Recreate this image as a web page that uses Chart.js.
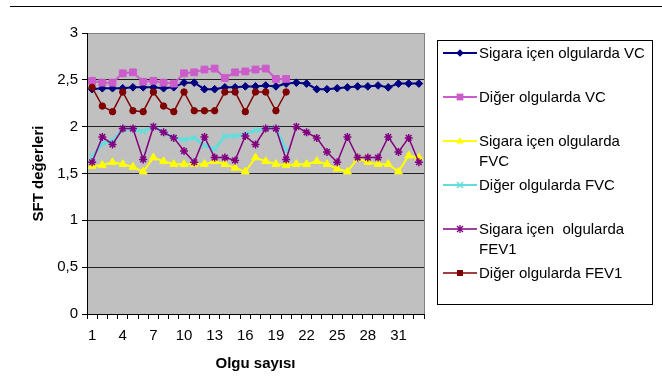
<!DOCTYPE html>
<html>
<head>
<meta charset="utf-8">
<script src="https://cdn.jsdelivr.net/npm/chart.js@4.4.1/dist/chart.umd.min.js"></script>
<style>
html,body{margin:0;padding:0;background:#fff;}
#wrap{position:relative;width:662px;height:388px;overflow:hidden;font-family:"Liberation Sans",Arial,sans-serif;background:#fff;}
#c{position:absolute;left:0;top:0;}
#topline{position:absolute;left:10px;top:6px;width:652px;height:0;border-top:1px solid #000;}
#legendBox{position:absolute;left:437px;top:40px;width:216px;height:265px;border:1px solid #000;box-sizing:border-box;}
.lg-text{position:absolute;left:479px;font-size:15px;line-height:20px;color:#000;white-space:pre;}
.lg-svg{position:absolute;left:442px;}
</style>
</head>
<body>
<div id="wrap">
  <canvas id="c" width="662" height="388"></canvas>
  <div id="topline"></div>
  <div id="legendBox"></div>
</div>
<script>
// ---- data ----
const categories = ['1','2','3','4','5','6','7','8','9','10','11','12','13','14','15','16','17','18','19','20','21','22','23','24','25','26','27','28','29','30','31','32','33'];

const seriesNames = [
  'Sigara içen olgularda VC',
  'Diğer olgularda VC',
  'Sigara içen olgularda\nFVC',
  'Diğer olgularda FVC',
  'Sigara içen  olgularda\nFEV1',
  'Diğer olgularda FEV1'
];

const vcSmokers = [2.40, 2.41, 2.41, 2.41, 2.42, 2.42, 2.42, 2.41, 2.42, 2.47, 2.47, 2.40, 2.40, 2.42, 2.42, 2.43, 2.43, 2.44, 2.43, 2.46, 2.47, 2.46, 2.40, 2.40, 2.41, 2.42, 2.43, 2.43, 2.44, 2.42, 2.46, 2.46, 2.46];
const vcOthers = [2.49, 2.47, 2.47, 2.57, 2.58, 2.48, 2.49, 2.47, 2.46, 2.57, 2.58, 2.61, 2.62, 2.52, 2.58, 2.59, 2.61, 2.62, 2.51, 2.51];
const fvcSmokers = [1.58, 1.59, 1.62, 1.60, 1.57, 1.52, 1.67, 1.63, 1.60, 1.60, 1.60, 1.60, 1.63, 1.60, 1.56, 1.52, 1.67, 1.63, 1.60, 1.59, 1.60, 1.60, 1.63, 1.60, 1.55, 1.52, 1.66, 1.62, 1.60, 1.60, 1.52, 1.69, 1.67];
const fvcOthers = [1.68, 1.82, 1.85, 1.97, 1.97, 1.95, 2.00, 1.94, 1.88, 1.86, 1.88, 1.80, 1.76, 1.90, 1.90, 1.92, 1.96, 1.98, 1.98, 1.75];
const fev1Smokers = [1.62, 1.89, 1.81, 1.98, 1.98, 1.65, 2.00, 1.94, 1.88, 1.74, 1.62, 1.89, 1.67, 1.67, 1.64, 1.90, 1.81, 1.98, 1.98, 1.65, 2.00, 1.94, 1.88, 1.73, 1.62, 1.89, 1.67, 1.67, 1.67, 1.89, 1.73, 1.88, 1.62];
const fev1Others = [2.42, 2.22, 2.16, 2.37, 2.17, 2.16, 2.37, 2.22, 2.16, 2.37, 2.17, 2.17, 2.17, 2.37, 2.37, 2.16, 2.37, 2.37, 2.17, 2.37];

// ---- styles ----
const FONT = '"Liberation Sans", Arial, sans-serif';
Chart.defaults.font.family = FONT;
Chart.defaults.color = '#000';

const styles = [
  {color:'#000080', fill:'#000080', point:'rectRot', radius:3.8, width:2},
  {color:'#cc5ccc', fill:'#cc5ccc', point:'rect', radius:4.8, width:2},
  {color:'#ffff00', fill:'#ffff00', point:'triangle', radius:4.5, width:2},
  {color:'#66dddd', fill:'#66dddd', point:'crossRot', radius:4, width:3},
  {color:'#800080', fill:'#800080', point:'star', radius:4, width:1.5},
  {color:'#800000', fill:'#800000', point:'circle', radius:3.2, width:1.5}
];
const seriesData = [vcSmokers, vcOthers, fvcSmokers, fvcOthers, fev1Smokers, fev1Others];

const datasets = seriesData.map((d, i) => ({
  label: seriesNames[i].replace('\n', ' '),
  data: d,
  borderColor: styles[i].color,
  backgroundColor: styles[i].fill,
  pointBackgroundColor: styles[i].fill,
  pointBorderColor: styles[i].color,
  pointStyle: styles[i].point,
  pointRadius: styles[i].radius,
  pointBorderWidth: (styles[i].point === 'star' || styles[i].point === 'crossRot') ? 1.5 : 1,
  borderWidth: styles[i].width,
  tension: 0,
  fill: false,
  order: 6 - i
}));

const plotBg = {
  id: 'plotBg',
  beforeDraw(chart) {
    const {ctx, chartArea: a} = chart;
    ctx.save();
    ctx.fillStyle = '#c0c0c0';
    ctx.fillRect(a.left, a.top, a.right - a.left, a.bottom - a.top);
    ctx.restore();
  },
  beforeDatasetsDraw(chart) {
    const {ctx, chartArea: a} = chart;
    ctx.save();
    ctx.strokeStyle = '#808080';
    ctx.lineWidth = 1;
    ctx.beginPath();
    ctx.moveTo(Math.round(a.right) + 0.5, a.top);
    ctx.lineTo(Math.round(a.right) + 0.5, a.bottom);
    ctx.stroke();
    ctx.restore();
  }
};

new Chart(document.getElementById('c'), {
  type: 'line',
  data: {labels: categories, datasets},
  options: {
    responsive: false,
    animation: false,
    events: [],
    layout: {padding: {left: 0, right: 238, top: 33, bottom: 0}},
    plugins: {legend: {display: false}, tooltip: {enabled: false}},
    scales: {
      x: {
        offset: true,
        grid: {offset: true, drawOnChartArea: false, drawTicks: true, tickLength: 5, color: '#000', tickColor: '#000', lineWidth: 1},
        border: {display: true, color: '#000', width: 1},
        ticks: {autoSkip: false, maxRotation: 0, minRotation: 0, padding: 8, color: '#000', font: {size: 15},
          callback: (v, i) => (i % 3 === 0 ? categories[i] : '')},
        title: {display: true, text: 'Olgu sayısı', color: '#000', font: {size: 15, weight: 'bold'}, padding: {top: 0, bottom: 15}},
        afterFit: s => { s.height = 74; }
      },
      y: {
        min: 0, max: 3,
        ticks: {stepSize: 0.5, padding: 4, color: '#000', font: {size: 15},
          callback: v => String(v).replace('.', ',')},
        grid: {color: c => (c.tick && c.tick.value === 3 ? '#808080' : '#222'), lineWidth: 1, tickLength: 5, tickColor: '#000', drawTicks: true},
        border: {display: true, color: '#000', width: 1},
        title: {display: true, text: 'SFT değerleri', color: '#000', font: {size: 15, weight: 'bold'}, padding: {top: 30, bottom: 0}},
        afterFit: s => { s.width = 87; }
      }
    }
  },
  plugins: [plotBg]
});

// ---- legend (HTML) ----
const wrap = document.getElementById('wrap');
function markerSvg(st) {
  const cx = 18, cy = 8, c = st.color;
  let m = '';
  switch (st.point) {
    case 'rectRot': m = `<polygon points="${cx},${cy-3.8} ${cx+3.8},${cy} ${cx},${cy+3.8} ${cx-3.8},${cy}" fill="${c}"/>`; break;
    case 'rect': m = `<rect x="${cx-3.4}" y="${cy-3.4}" width="6.8" height="6.8" fill="${c}"/>`; break;
    case 'triangle': m = `<polygon points="${cx},${cy-4} ${cx+3.8},${cy+2.5} ${cx-3.8},${cy+2.5}" fill="${c}"/>`; break;
    case 'crossRot': m = `<path d="M${cx-3} ${cy-3}L${cx+3} ${cy+3}M${cx+3} ${cy-3}L${cx-3} ${cy+3}" stroke="${c}" stroke-width="1.5"/>`; break;
    case 'star': m = `<path d="M${cx-3} ${cy-3}L${cx+3} ${cy+3}M${cx+3} ${cy-3}L${cx-3} ${cy+3}M${cx} ${cy-4}L${cx} ${cy+4}" stroke="${c}" stroke-width="1.3"/>`; break;
    case 'circle': m = `<rect x="${cx-3}" y="${cy-3}" width="6" height="6" fill="${c}"/>`; break;
  }
  return `<svg width="36" height="16" xmlns="http://www.w3.org/2000/svg"><line x1="1" y1="${cy}" x2="35" y2="${cy}" stroke="${c}" stroke-width="${Math.min(st.width,2)}"/>${m}</svg>`;
}
seriesNames.forEach((name, i) => {
  const cy = 53 + 44 * i;
  const s = document.createElement('div');
  s.className = 'lg-svg';
  s.style.top = (cy - 8) + 'px';
  s.innerHTML = markerSvg(styles[i]);
  wrap.appendChild(s);
  const t = document.createElement('div');
  t.className = 'lg-text';
  t.style.top = (cy - 10) + 'px';
  t.textContent = name;
  wrap.appendChild(t);
});
</script>
</body>
</html>
